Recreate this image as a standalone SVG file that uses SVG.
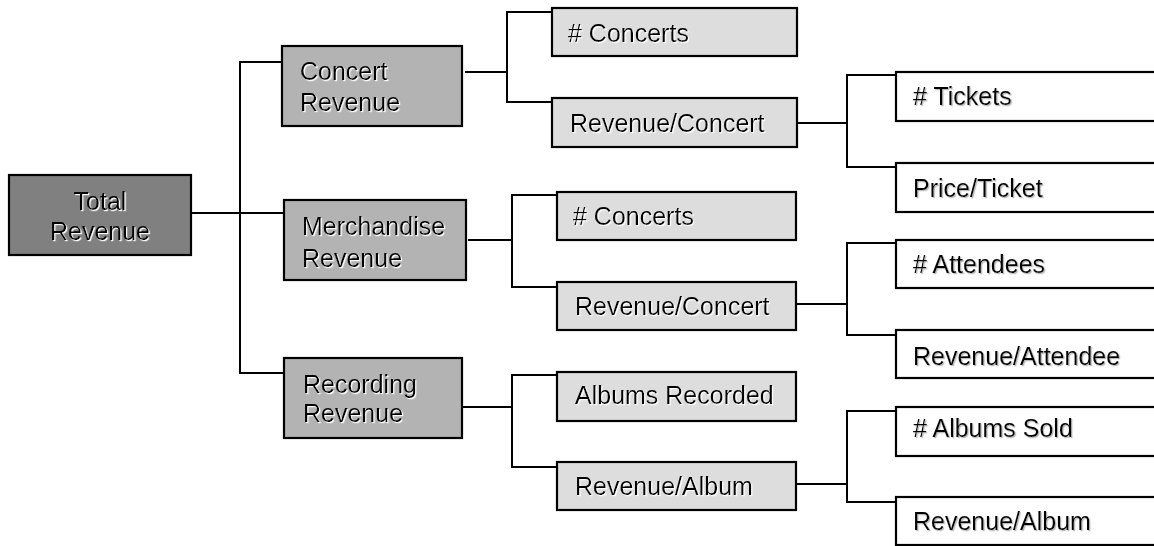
<svg xmlns="http://www.w3.org/2000/svg" width="1154" height="546" viewBox="0 0 1154 546">
  <defs>
    <filter id="shLight" x="-5%" y="-20%" width="110%" height="140%">
      <feDropShadow dx="1.2" dy="1.2" stdDeviation="0.3" flood-color="#ffffff" flood-opacity="1"/>
    </filter>
    <filter id="shGray" x="-5%" y="-20%" width="110%" height="140%">
      <feDropShadow dx="1.2" dy="1.2" stdDeviation="0.3" flood-color="#b8b8b8" flood-opacity="1"/>
    </filter>
  </defs>
  <style>
    svg { background: #ffffff; }
    rect { stroke: #000; stroke-width: 2.2; }
    .l0 { fill: #808080; }
    .l1 { fill: #b3b3b3; }
    .l2 { fill: #dddddd; }
    .l3 { fill: #ffffff; }
    text { font-family: "Liberation Sans", Arial, sans-serif; font-size: 25px; fill: #000; }
    .dark text, .mid text, .pale text { filter: url(#shLight); }
    .leaf text { filter: url(#shGray); }
    #connectors path { fill: none; stroke: #000; stroke-width: 2; }
  </style>

  <!-- tree connectors -->
  <g id="connectors">
    <!-- root to second level -->
    <path d="M191 213 H284"/>
    <path d="M283 62 H240 V373 H285"/>
    <!-- concert revenue -->
    <path d="M465 72 H507"/>
    <path d="M552 12 H507 V102 H552"/>
    <path d="M797 123 H847"/>
    <path d="M896 75 H847 V167 H896"/>
    <!-- merchandise revenue -->
    <path d="M468 240 H512"/>
    <path d="M557 195 H512 V287 H557"/>
    <path d="M796 304 H847"/>
    <path d="M896 243 H847 V335 H896"/>
    <!-- recording revenue -->
    <path d="M462 407 H512"/>
    <path d="M557 375 H512 V467 H557"/>
    <path d="M797 484 H847"/>
    <path d="M896 411 H847 V502 H896"/>
  </g>

  <!-- root -->
  <g id="total-revenue" class="dark">
    <rect class="l0" x="9" y="175" width="182" height="80"/>
    <text x="100" y="210" text-anchor="middle">Total</text>
    <text x="100" y="240" text-anchor="middle">Revenue</text>
  </g>

  <!-- second level -->
  <g id="concert-revenue" class="mid">
    <rect class="l1" x="282" y="46" width="180" height="80"/>
    <text x="300" y="80">Concert</text>
    <text x="300" y="111">Revenue</text>
  </g>
  <g id="merchandise-revenue" class="mid">
    <rect class="l1" x="284" y="200" width="182" height="80"/>
    <text x="302" y="235">Merchandise</text>
    <text x="302" y="267">Revenue</text>
  </g>
  <g id="recording-revenue" class="mid">
    <rect class="l1" x="284" y="358" width="178" height="80"/>
    <text x="303" y="393">Recording</text>
    <text x="303" y="422">Revenue</text>
  </g>

  <!-- third level -->
  <g id="concerts-1" class="pale">
    <rect class="l2" x="552" y="8" width="245" height="48"/>
    <text x="568" y="42"># Concerts</text>
  </g>
  <g id="revenue-per-concert-1" class="pale">
    <rect class="l2" x="552" y="98" width="245" height="49"/>
    <text x="570" y="132">Revenue/Concert</text>
  </g>
  <g id="concerts-2" class="pale">
    <rect class="l2" x="557" y="192" width="239" height="48"/>
    <text x="573" y="225"># Concerts</text>
  </g>
  <g id="revenue-per-concert-2" class="pale">
    <rect class="l2" x="557" y="282" width="239" height="48"/>
    <text x="575" y="315">Revenue/Concert</text>
  </g>
  <g id="albums-recorded" class="pale">
    <rect class="l2" x="557" y="372" width="239" height="49"/>
    <text x="575" y="404">Albums Recorded</text>
  </g>
  <g id="revenue-per-album-1" class="pale">
    <rect class="l2" x="557" y="462" width="239" height="48"/>
    <text x="575" y="495">Revenue/Album</text>
  </g>

  <!-- fourth level (runs past the right edge) -->
  <g id="tickets" class="leaf">
    <rect class="l3" x="896" y="72" width="270" height="49"/>
    <text x="913" y="105"># Tickets</text>
  </g>
  <g id="price-per-ticket" class="leaf">
    <rect class="l3" x="896" y="163" width="270" height="49"/>
    <text x="913" y="197">Price/Ticket</text>
  </g>
  <g id="attendees" class="leaf">
    <rect class="l3" x="896" y="240" width="270" height="48"/>
    <text x="913" y="273"># Attendees</text>
  </g>
  <g id="revenue-per-attendee" class="leaf">
    <rect class="l3" x="896" y="330" width="270" height="48"/>
    <text x="913" y="365">Revenue/Attendee</text>
  </g>
  <g id="albums-sold" class="leaf">
    <rect class="l3" x="896" y="407" width="270" height="49"/>
    <text x="913" y="437"># Albums Sold</text>
  </g>
  <g id="revenue-per-album-2" class="leaf">
    <rect class="l3" x="896" y="497" width="270" height="48"/>
    <text x="913" y="530">Revenue/Album</text>
  </g>
</svg>
